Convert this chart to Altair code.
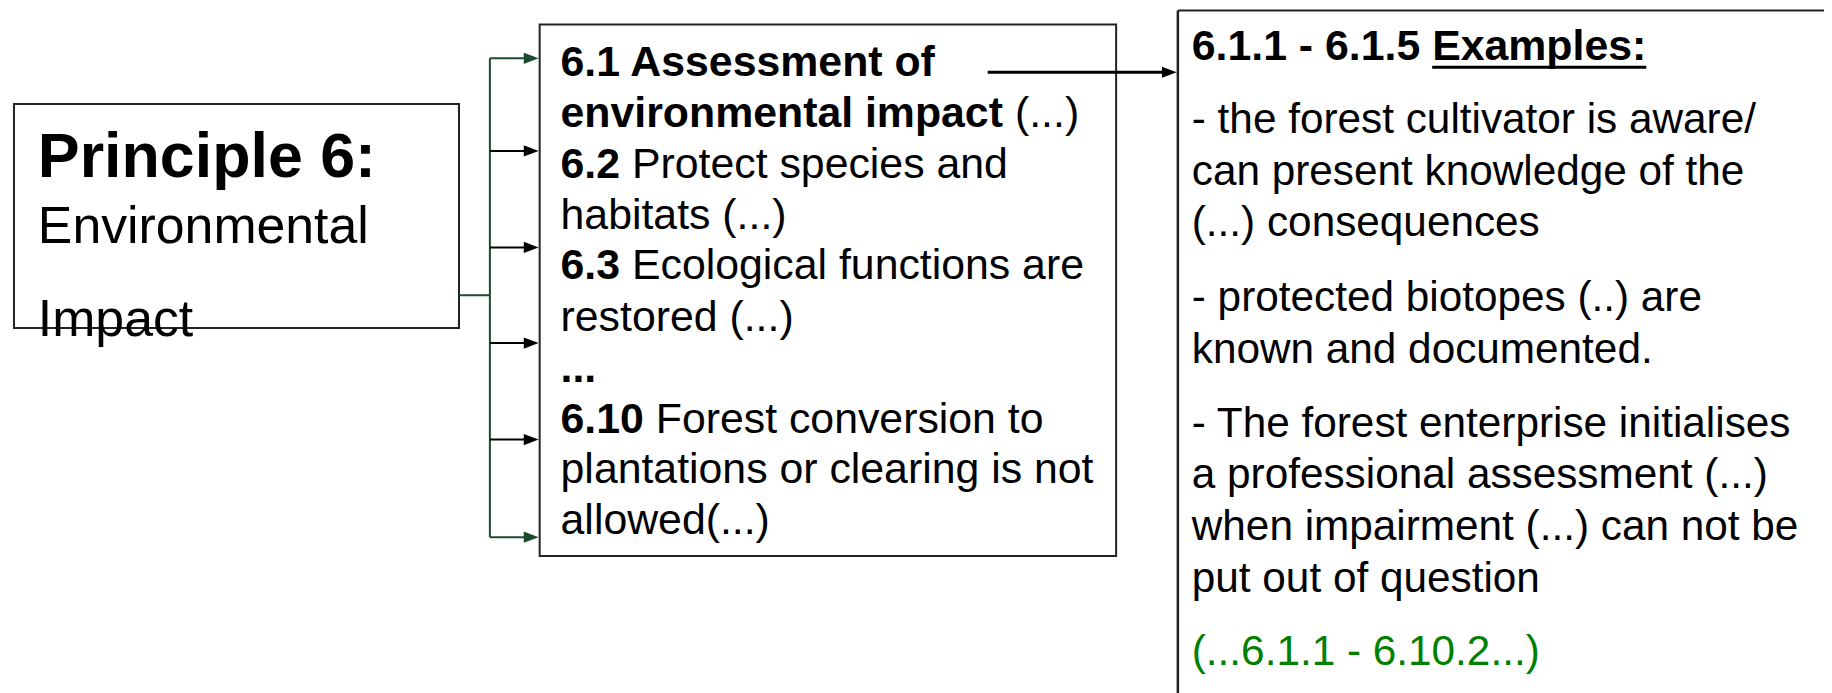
import altair as alt
import pandas as pd

# ---------------- content ----------------
left_lines = [("Principle 6:", True), ("Environmental", False), ("Impact", False)]

middle_lines = [
    [("6.1 Assessment of", True)],
    [("environmental impact", True), (" (...)", False)],
    [("6.2", True), (" Protect species and", False)],
    [("habitats (...)", False)],
    [("6.3", True), (" Ecological functions are", False)],
    [("restored (...)", False)],
    [("...", True)],
    [("6.10", True), (" Forest conversion to", False)],
    [("plantations or clearing is not", False)],
    [("allowed(...)", False)],
]

right_title = [("6.1.1 - 6.1.5 ", True), ("Examples:", True)]
right_lines = [
    "- the forest cultivator is aware/",
    "can present knowledge of the",
    "(...) consequences",
    "- protected biotopes (..) are",
    "known and documented.",
    "- The forest enterprise initialises",
    "a professional assessment (...)",
    "when impairment (...) can not be",
    "put out of question",
]
green_note = "(...6.1.1 - 6.10.2...)"

# ---------------- layout (pixel positions of the diagram) ----------------
W, H, M = 1832, 693, 8
FONT = "Liberation Sans"
BLACK = "#000000"
DKGREEN = "#1b4a2c"
GREEN = "#008000"
EDGE = "#222222"

left_box = (14, 103, 461, 328)
left_text_x = 38
left_baselines = [176, 243, 336]
left_sizes = [63, 52, 52]

mid_box = (542, 23, 1121, 557)
mid_text_x = 563
mid_baselines = [75, 126, 177, 228, 279, 331, 382, 433, 484, 535]
mid_size = 43

right_left_x = 1183
right_top_y = 9
right_text_x = 1197
title_baseline = 59
title_size = 43
right_baselines = [132, 184, 235, 311, 363, 437, 489, 541, 593]
green_baseline = 666
right_size = 42.5

trunk_x = 492
feed_y = 295
arrow_ys = [57, 150, 247, 343, 440, 538]
arrow_tip_x = 541
big_arrow = (992, 1182, 71)

# ---------------- Arial-compatible glyph widths (per 1000 em) ----------------
REG = {' ': 278, '(': 333, ')': 333, '-': 333, '.': 278, '/': 278, ':': 278,
       'A': 667, 'E': 667, 'I': 278, 'P': 667, 'T': 611, 'F': 611,
       'a': 556, 'b': 556, 'c': 500, 'd': 556, 'e': 556, 'f': 278, 'g': 556,
       'h': 556, 'i': 222, 'j': 222, 'k': 500, 'l': 222, 'm': 833, 'n': 556,
       'o': 556, 'p': 556, 'q': 556, 'r': 333, 's': 500, 't': 278, 'u': 556,
       'v': 500, 'w': 722, 'x': 500, 'y': 500, 'z': 500}
BOLD = {' ': 278, '(': 333, ')': 333, '-': 333, '.': 278, '/': 278, ':': 333,
        'A': 722, 'E': 667, 'I': 278, 'P': 667, 'T': 611, 'F': 611,
        'a': 556, 'b': 611, 'c': 556, 'd': 611, 'e': 556, 'f': 333, 'g': 611,
        'h': 611, 'i': 278, 'j': 278, 'k': 556, 'l': 278, 'm': 889, 'n': 611,
        'o': 611, 'p': 611, 'q': 611, 'r': 389, 's': 556, 't': 333, 'u': 611,
        'v': 556, 'w': 778, 'x': 556, 'y': 556, 'z': 500}


def tw(s, bold, size):
    t = BOLD if bold else REG
    return sum(t.get(c, 556) for c in s) * size / 1000.0


texts = []


def add_line(segs, x0, y, size, color=BLACK):
    cur = x0
    spans = []
    for txt, b in segs:
        lead = len(txt) - len(txt.lstrip(' '))
        cur += tw(' ' * lead, b, size)
        core = txt.strip(' ')
        texts.append(dict(x=cur, y=y, t=core, s=size, c=color, b=b))
        w = tw(core, b, size)
        spans.append((cur, cur + w))
        cur += w
        trail = len(txt) - len(txt.rstrip(' '))
        cur += tw(' ' * trail, b, size)
    return spans


for (txt, b), y, s in zip(left_lines, left_baselines, left_sizes):
    add_line([(txt, b)], left_text_x, y, s)
for segs, y in zip(middle_lines, mid_baselines):
    add_line(segs, mid_text_x, y, mid_size)
title_spans = add_line(right_title, right_text_x, title_baseline, title_size)
for txt, y in zip(right_lines, right_baselines):
    add_line([(txt, False)], right_text_x, y, right_size)
add_line([(green_note, False)], right_text_x, green_baseline, right_size, GREEN)

tdf = pd.DataFrame(texts)

# boxes
boxes = pd.DataFrame([
    dict(x1=left_box[0], y1=left_box[1], x2=left_box[2], y2=left_box[3]),
    dict(x1=mid_box[0], y1=mid_box[1], x2=mid_box[2], y2=mid_box[3]),
])

# lines
rules = []
rules.append(dict(x1=right_left_x, x2=W + 5, y1=right_top_y, y2=right_top_y, c=EDGE, w=2))
rules.append(dict(x1=right_left_x, x2=right_left_x, y1=right_top_y, y2=H + 5, c=EDGE, w=2.5))
rules.append(dict(x1=left_box[2], x2=trunk_x, y1=feed_y, y2=feed_y, c=DKGREEN, w=2))
rules.append(dict(x1=trunk_x, x2=trunk_x, y1=arrow_ys[0], y2=arrow_ys[-1], c=DKGREEN, w=2))
heads = []
for i, ay in enumerate(arrow_ys):
    col = DKGREEN if i in (0, len(arrow_ys) - 1) else BLACK
    rules.append(dict(x1=trunk_x, x2=arrow_tip_x - 10, y1=ay, y2=ay, c=col, w=2))
    heads.append(dict(x=arrow_tip_x, y=ay, c=col))
rules.append(dict(x1=big_arrow[0], x2=big_arrow[1] - 10, y1=big_arrow[2], y2=big_arrow[2], c=BLACK, w=3))
heads.append(dict(x=big_arrow[1], y=big_arrow[2], c=BLACK))
ex0, ex1 = title_spans[1]
rules.append(dict(x1=ex0, x2=ex1, y1=title_baseline + 7, y2=title_baseline + 7, c=BLACK, w=3))
rdf = pd.DataFrame(rules)
hdf = pd.DataFrame(heads)

xs = alt.Scale(domain=[M, W], range=[0, W - M], nice=False, zero=False)
ys = alt.Scale(domain=[M, H], range=[0, H - M], nice=False, zero=False)

box_layer = alt.Chart(boxes).mark_rect(fill="white", fillOpacity=0, stroke=EDGE, strokeWidth=2).encode(
    x=alt.X("x1:Q", scale=xs, axis=None), x2="x2:Q",
    y=alt.Y("y1:Q", scale=ys, axis=None), y2="y2:Q")

rule_layer = alt.Chart(rdf).mark_rule(strokeCap="butt").encode(
    x=alt.X("x1:Q", scale=xs, axis=None), x2="x2:Q",
    y=alt.Y("y1:Q", scale=ys, axis=None), y2="y2:Q",
    color=alt.Color("c:N", scale=None),
    size=alt.Size("w:Q", scale=None))

head_layer = alt.Chart(hdf).mark_point(
    shape="M0,0L-2,-0.75L-2,0.75Z", filled=True, size=225, opacity=1, strokeWidth=0).encode(
    x=alt.X("x:Q", scale=xs, axis=None),
    y=alt.Y("y:Q", scale=ys, axis=None),
    color=alt.Color("c:N", scale=None))


def text_layer(df, weight):
    return alt.Chart(df).mark_text(align="left", baseline="alphabetic", font=FONT,
                                   fontWeight=weight).encode(
        x=alt.X("x:Q", scale=xs, axis=None),
        y=alt.Y("y:Q", scale=ys, axis=None),
        text="t:N",
        size=alt.Size("s:Q", scale=None),
        color=alt.Color("c:N", scale=None))


reg_layer = text_layer(tdf[~tdf.b], "normal")
bold_layer = text_layer(tdf[tdf.b], "bold")

chart = alt.layer(box_layer, rule_layer, head_layer, reg_layer, bold_layer).properties(
    width=W - M, height=H - M, padding=0,
    autosize=alt.AutoSizeParams(type="none"),
    background="white",
).configure_view(strokeWidth=0)

chart.save("out.html", embed_options={"renderer": "svg", "actions": False})
